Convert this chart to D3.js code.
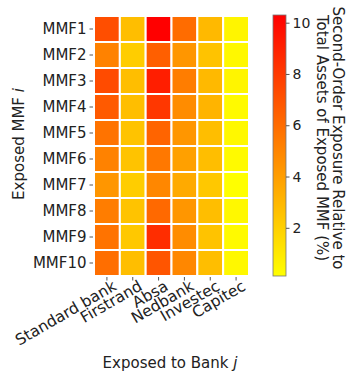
<!DOCTYPE html>
<html>
<head>
<meta charset="utf-8">
<script src="https://cdn.jsdelivr.net/npm/d3@7"></script>
<style>
  body { margin: 0; background: #fff; }
  text { font-family: "DejaVu Sans", sans-serif; fill: #222; }
</style>
</head>
<body>
<script>
// banks (columns) and funds (rows)
var banks = ["Standard bank", "Firstrand", "Absa", "Nedbank", "Investec", "Capitec"];
var funds = ["MMF1", "MMF2", "MMF3", "MMF4", "MMF5", "MMF6", "MMF7", "MMF8", "MMF9", "MMF10"];

// exposure values (%) row by row, one array per fund
var mmf1  = [7.2, 2.7, 10.3, 6.0, 2.9, 0.5];
var mmf2  = [5.1, 2.1, 6.5, 4.3, 2.5, 0.4];
var mmf3  = [7.3, 2.7, 9.1, 5.3, 2.9, 0.5];
var mmf4  = [6.7, 2.7, 8.1, 4.7, 3.1, 0.3];
var mmf5  = [5.7, 2.5, 6.3, 4.3, 2.7, 0.4];
var mmf6  = [5.1, 2.5, 5.5, 3.9, 2.7, 0.3];
var mmf7  = [4.3, 2.1, 4.9, 3.5, 2.3, 0.12];
var mmf8  = [5.3, 2.5, 6.1, 4.3, 2.7, 0.4];
var mmf9  = [5.7, 2.3, 8.5, 4.7, 2.5, 0.3];
var mmf10 = [5.9, 2.7, 6.9, 4.9, 2.7, 0.4];
var values = [mmf1, mmf2, mmf3, mmf4, mmf5, mmf6, mmf7, mmf8, mmf9, mmf10];

var cbTicks = [2, 4, 6, 8, 10];
var vmin = 0.12, vmax = 10.3;

var width = 347, height = 374;
var plot = {left: 94, right: 249, top: 16, bottom: 276};

var svg = d3.select("body").append("svg")
    .attr("width", width)
    .attr("height", height);

// scales
var x = d3.scaleBand().domain(banks).range([plot.left, plot.right]);
var y = d3.scaleBand().domain(funds).range([plot.top, plot.bottom]);
// autumn_r : yellow -> red
var color = d3.scaleLinear().domain([vmin, vmax]).range(["#ffff00", "#ff0000"]).clamp(true);

// flatten cells
var cells = [];
values.forEach(function(row, i) {
    row.forEach(function(v, j) {
        cells.push({fund: funds[i], bank: banks[j], v: v});
    });
});

svg.append("g").selectAll("rect")
    .data(cells)
    .enter().append("rect")
    .attr("x", function(d) { return x(d.bank); })
    .attr("y", function(d) { return y(d.fund); })
    .attr("width", x.bandwidth())
    .attr("height", y.bandwidth())
    .attr("fill", function(d) { return color(d.v); })
    .attr("stroke", "#fff")
    .attr("stroke-width", 2);

// axes
var yAxis = svg.append("g")
    .attr("transform", "translate(" + (plot.left - 1) + ",0)")
    .call(d3.axisLeft(y).tickSize(3.5).tickPadding(3));
yAxis.select(".domain").remove();
yAxis.selectAll("text").style("font-size", "15px").style("font-family", "DejaVu Sans");
yAxis.selectAll("line").attr("stroke", "#555");

var xAxis = svg.append("g")
    .attr("transform", "translate(0," + (plot.bottom + 1) + ")")
    .call(d3.axisBottom(x).tickSize(3.5).tickPadding(3));
xAxis.select(".domain").remove();
xAxis.selectAll("line").attr("stroke", "#555");
xAxis.selectAll("text")
    .style("font-size", "15.5px")
    .style("font-family", "DejaVu Sans")
    .attr("text-anchor", "end")
    .attr("dx", "0.2em")
    .attr("dy", "0.6em")
    .attr("transform", "rotate(-30)");

// axis titles
svg.append("text")
    .attr("x", 170).attr("y", 368)
    .attr("text-anchor", "middle")
    .style("font-size", "15px")
    .html("Exposed to Bank <tspan font-style='italic'>j</tspan>");

svg.append("text")
    .attr("transform", "translate(24," + ((plot.top + plot.bottom) / 2 - 2) + ") rotate(-90)")
    .attr("text-anchor", "middle")
    .style("font-size", "15px")
    .html("Exposed MMF <tspan font-style='italic'>i</tspan>");

// colorbar
var cb = {left: 273, width: 13, top: 15, bottom: 276};
var cbScale = d3.scaleLinear().domain([vmin, vmax]).range([cb.bottom, cb.top]);

var defs = svg.append("defs");
var grad = defs.append("linearGradient")
    .attr("id", "cbgrad")
    .attr("x1", "0").attr("y1", "1").attr("x2", "0").attr("y2", "0");
grad.append("stop").attr("offset", "0").attr("stop-color", color(vmin));
grad.append("stop").attr("offset", "1").attr("stop-color", color(vmax));

svg.append("rect")
    .attr("x", cb.left).attr("y", cb.top)
    .attr("width", cb.width).attr("height", cb.bottom - cb.top)
    .attr("fill", "url(#cbgrad)")
    .attr("stroke", "#777")
    .attr("stroke-width", 0.8);

var cbAxis = svg.append("g")
    .attr("transform", "translate(" + (cb.left + cb.width) + ",0)")
    .call(d3.axisRight(cbScale).tickValues(cbTicks).tickSize(3.5).tickPadding(3));
cbAxis.select(".domain").remove();
cbAxis.selectAll("line").attr("stroke", "#555");
cbAxis.selectAll("text").style("font-size", "14px").style("font-family", "DejaVu Sans");

var cbLabel = svg.append("text")
    .attr("transform", "translate(330,138) rotate(90)")
    .attr("text-anchor", "middle")
    .style("font-size", "15px");
cbLabel.append("tspan").attr("x", 0).attr("dy", "-0.2em").text("Second-Order Exposure Relative to");
cbLabel.append("tspan").attr("x", 0).attr("dy", "1.1em").text("Total Assets of Exposed MMF (%)");
</script>
</body>
</html>
